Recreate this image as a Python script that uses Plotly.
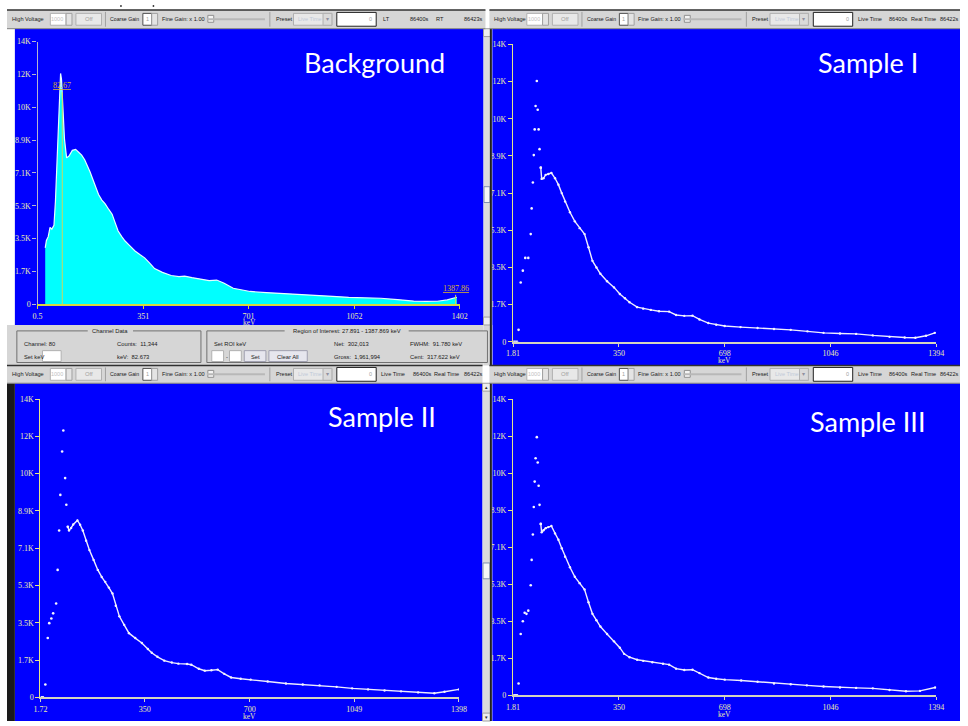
import plotly.graph_objects as go

W, H = 968, 726

# ---------------- data ----------------
y_tickvals = [0, 1750, 3500, 5250, 7000, 8750, 10500, 12250, 14000]
y_ticktext = ["0", "1.7K", "3.5K", "5.3K", "7.1K", "8.9K", "10K", "12K", "14K"]

bg_xticks = [0.5, 351, 701, 1052, 1402]
s1_xticks = [1.81, 350, 698, 1046, 1394]
s2_xticks = [1.72, 350, 700, 1049, 1398]
s3_xticks = [1.81, 350, 698, 1046, 1394]

roi_markers = [82.67, 1387.86]
roi_labels = ["82.67", "1387.86"]

bg_kev = [26, 30, 36, 42, 48, 55, 60, 65, 70, 74, 77, 80, 84, 90, 97, 105, 116, 127, 137,
          147, 157, 166, 175, 183, 193, 203, 214, 225, 237, 248, 258, 268, 280, 291, 308,
          324, 340, 356, 372, 389, 415, 444, 470, 489, 513, 540, 570, 595, 620, 650, 680,
          706, 760, 814, 870, 922, 980, 1033, 1090, 1140, 1195, 1249, 1290, 1327, 1360, 1392]
bg_counts = [3000, 3400, 3600, 4100, 4000, 4200, 5500, 7500, 9800, 11500, 12300, 12000, 10500,
             8800, 7800, 7900, 8200, 8250, 8100, 7950, 7700, 7400, 7050, 6700, 6250, 5850,
             5550, 5350, 5050, 4800, 4350, 3900, 3600, 3370, 3100, 2840, 2650, 2470, 2200,
             1900, 1700, 1530, 1470, 1500, 1420, 1330, 1260, 1290, 1120, 850, 740, 680, 620,
             580, 520, 470, 420, 370, 340, 320, 250, 170, 150, 160, 230, 370]

s1_kev = [5, 10, 15, 20, 27, 34, 42, 52, 60, 63, 67, 70, 73, 76, 80, 83, 86, 89, 93, 96, 102,
          109, 118, 128, 140, 151, 162, 173, 189, 205, 221, 237, 250, 263, 276, 289, 311, 334,
          353, 370, 385, 410, 430, 455, 482, 515, 538, 565, 592, 615, 644, 670, 698, 750, 806,
          860, 915, 970, 1023, 1077, 1130, 1185, 1240, 1290, 1325, 1360, 1389]
s1_counts = [0, 0, 0, 560, 2790, 3350, 3950, 3950, 5070, 6280, 7500, 8790, 10000, 11100, 12280,
             10930, 10000, 9070, 8200, 7670, 7700, 7860, 7900, 7950, 7700, 7400, 7000, 6600,
             6100, 5670, 5350, 5070, 4450, 3810, 3500, 3200, 2850, 2560, 2250, 2050, 1860, 1630,
             1560, 1500, 1440, 1420, 1260, 1220, 1230, 1050, 880, 800, 740, 690, 650, 600, 560,
             490, 420, 390, 370, 300, 230, 200, 190, 280, 420]

s2_kev = [5, 10, 18, 26, 31, 38, 44, 54, 59, 64, 68, 74, 78, 84, 88, 93, 97, 104, 111, 125,
          134, 143, 154, 165, 179, 193, 206, 218, 230, 242, 253, 265, 281, 297, 318, 340, 360,
          373, 392, 415, 440, 462, 491, 505, 530, 550, 572, 593, 615, 638, 670, 703, 760, 821,
          877, 933, 990, 1042, 1095, 1150, 1205, 1262, 1316, 1350, 1398]
s2_counts = [0, 0, 600, 2780, 3480, 3700, 3940, 4400, 5980, 7830, 9500, 11540, 12520, 10290,
             9040, 8000, 7830, 7950, 8110, 8300, 8100, 7830, 7350, 6910, 6450, 5980, 5650, 5420,
             5150, 4870, 4300, 3800, 3400, 3010, 2780, 2550, 2270, 2090, 1900, 1720, 1630, 1580,
             1560, 1530, 1340, 1250, 1270, 1300, 1100, 930, 870, 830, 740, 650, 600, 560, 490,
             420, 370, 320, 280, 230, 190, 260, 370]

s3_kev = [5, 10, 15, 20, 27, 34, 40, 46, 52, 60, 63, 67, 70, 73, 76, 80, 83, 86, 89, 93, 96,
          102, 109, 118, 128, 140, 151, 162, 173, 189, 205, 221, 237, 250, 263, 276, 289, 311,
          334, 353, 367, 385, 410, 430, 460, 495, 515, 538, 565, 592, 615, 644, 670, 698, 752,
          806, 860, 915, 968, 1023, 1077, 1130, 1185, 1240, 1294, 1340, 1390]
s3_counts = [0, 0, 0, 560, 2900, 3500, 3900, 3850, 4000, 5200, 6400, 7600, 8900, 10100, 11200,
             12200, 11000, 9900, 9000, 8100, 7700, 7800, 7900, 7950, 8000, 7650, 7350, 6950,
             6550, 6050, 5600, 5300, 5000, 4400, 3850, 3550, 3250, 2900, 2550, 2250, 1960, 1800,
             1680, 1630, 1560, 1490, 1450, 1260, 1200, 1210, 1050, 840, 780, 740, 700, 640, 560,
             520, 470, 420, 370, 350, 330, 250, 190, 210, 370]

titles = ["Background", "Sample I", "Sample II", "Sample III"]
axis_unit = "keV"

# ---------------- helpers ----------------
def px(x):
    return x / W


def py(y):
    return 1 - y / H


shapes = []
annotations = []


def rect(x0, y0, x1, y1, fill, line=None, lw=0, layer="below"):
    shapes.append(dict(type="rect", xref="paper", yref="paper",
                       x0=px(x0), x1=px(x1), y0=py(y1), y1=py(y0),
                       fillcolor=fill, line=dict(color=line or fill, width=lw),
                       layer=layer))


def hline(x0, x1, y, color, w=1):
    shapes.append(dict(type="line", xref="paper", yref="paper", x0=px(x0), x1=px(x1),
                       y0=py(y), y1=py(y), line=dict(color=color, width=w), layer="above"))


def vline(x, y0, y1, color, w=1):
    shapes.append(dict(type="line", xref="paper", yref="paper", x0=px(x), x1=px(x),
                       y0=py(y0), y1=py(y1), line=dict(color=color, width=w), layer="above"))


def text(x, y, s, size=6, color="#1a1a1a", anchor="left", family="Liberation Sans"):
    annotations.append(dict(x=px(x), y=py(y), xref="paper", yref="paper", text=s,
                            showarrow=False, xanchor=anchor, yanchor="middle",
                            font=dict(size=size, color=color, family=family)))


def toolbar(strip_x0, strip_x1, ox, y0, y1, variant):
    rect(strip_x0, y0, strip_x1, y1, "#D6D6D6")
    hline(strip_x0, strip_x1, y0, "#303030", 1.5)
    hline(strip_x0, strip_x1, y1, "#808080", 1)
    cy = (y0 + y1) / 2
    text(strip_x0 + 3, cy, "High Voltage", 5.6)
    rect(ox + 44, cy - 6, ox + 60, cy + 6, "#FFFFFF", "#B0B0B0", 1)
    text(ox + 59, cy, "1000", 5.5, "#C0C0C0", "right")
    rect(ox + 60, cy - 6, ox + 66, cy + 6, "#E4E4E4", "#A0A0A0", 1)
    rect(ox + 70, cy - 6, ox + 96, cy + 6, "#E8E8E8", "#B0B0B0", 1)
    text(ox + 83, cy, "Off", 5.8, "#A0A0A0", "center")
    vline(ox + 100, y0 + 2, y1 - 2, "#A0A0A0")
    text(ox + 103, cy, "Coarse Gain", 5.2)
    rect(ox + 138, cy - 6, ox + 147, cy + 6, "#FFFFFF", "#505050", 1)
    text(ox + 146, cy, "1", 5.5, "#A0A0A0", "right")
    rect(ox + 147, cy - 6, ox + 153, cy + 6, "#E4E4E4", "#A0A0A0", 1)
    text(ox + 155, cy, "Fine Gain: x 1.00", 5.6)
    hline(ox + 203, ox + 262, cy, "#B8B8B8", 2)
    rect(ox + 204, cy - 4, ox + 210, cy + 3, "#F4F4F4", "#909090", 1)
    vline(ox + 267, y0 + 2, y1 - 2, "#A0A0A0")
    text(ox + 271, cy, "Preset", 5.6)
    rect(ox + 291, cy - 6, ox + 330, cy + 6, "#E8E8E8", "#B0B0B0", 1)
    text(ox + 294, cy, "Live Time", 5.5, "#C0C8D8")
    rect(ox + 321, cy - 6, ox + 330, cy + 6, "#DADADA", "#B0B0B0", 1)
    text(ox + 325.5, cy, "▾", 6, "#9090A0", "center")
    rect(ox + 335, cy - 7, ox + 375, cy + 7, "#FFFFFF", "#202020", 1)
    text(ox + 373, cy, "0", 5.5, "#A0A0A0", "right")
    if variant == "LT":
        text(ox + 380, cy, "LT", 5.6)
        text(ox + 431, cy, "86400s", 5.6, anchor="right")
        text(ox + 434, cy, "RT", 5.6)
        text(ox + 486, cy, "86423s", 5.6, anchor="right")
    else:
        text(ox + 378, cy, "Live Time", 5.6)
        text(ox + 410, cy, "86400s", 5.6)
        text(ox + 432, cy, "Real Time", 5.6)
        text(ox + 462, cy, "86422s", 5.6)


# ---------------- background chrome ----------------
rect(0, 0, W, 6, "#FFFFFF")
for dx in (80, 115, 148):
    rect(dx, 1, dx + 1.5, 3, "#404040")

# blue panels
rect(8, 25, 484, 325, "#0000FF")
rect(493, 25, W, 366, "#0000FF")
rect(8, 384, 483, H, "#0000FF")
rect(493, 384, W, H, "#0000FF")

# dark separators
rect(0, 384, 8, H, "#1A1A1A")
rect(484, 325, 493, 366, "#D6D6D6")
vline(491.5, 25, 366, "#202020", 2)
vline(491.5, 384, H, "#202020", 2)

# scrollbars
rect(484, 25, 491, 325, "#DCDCDC")
rect(484, 25, 491, 33, "#EEEEEE", "#A0A0A0", 1)
text(487.5, 29, "▲", 4.5, "#303030", "center")
rect(484, 317, 491, 325, "#EEEEEE", "#A0A0A0", 1)
text(487.5, 321, "▼", 4.5, "#303030", "center")
rect(484.5, 185, 490.5, 201, "#F6F6F6", "#8090B0", 1)
rect(483, 384, 491, H, "#DCDCDC")
rect(483, 384, 491, 392, "#EEEEEE", "#A0A0A0", 1)
text(487, 388, "▲", 4.5, "#303030", "center")
rect(483, 718, 491, H, "#EEEEEE", "#A0A0A0", 1)
text(487, 722, "▼", 4.5, "#303030", "center")
rect(483.5, 566, 490.5, 582, "#F6F6F6", "#8090B0", 1)

# channel data panel
rect(0, 325, 484, 366, "#D6D6D6")
rect(10, 331, 197, 363, "#D6D6D6", "#707070", 1)
rect(203, 331, 488, 363, "#D6D6D6", "#707070", 1)
rect(82, 327, 128, 334, "#D6D6D6")
text(105, 331, "Channel Data", 5.8, anchor="center")
rect(282, 327, 408, 334, "#D6D6D6")
text(345, 331, "Region of Interest: 27.891 - 1387.869 keV", 5.8, anchor="center")
text(15, 344, "Channel: 80", 5.8)
text(110, 344, "Counts:  11,344", 5.8)
text(15, 357, "Set keV", 5.8)
rect(36, 351, 55, 362, "#FFFFFF", "#B0B0B0", 1)
text(110, 357, "keV:  82.673", 5.8)
text(208, 344, "Set ROI keV", 5.8)
rect(208, 351, 220, 362, "#FFFFFF", "#B0B0B0", 1)
text(223, 357, "-", 5.8, anchor="center")
rect(226, 351, 238, 362, "#FFFFFF", "#B0B0B0", 1)
rect(241, 351, 263, 362, "#E6E6EE", "#A0A0B0", 1)
text(252, 357, "Set", 5.8, anchor="center")
rect(266, 351, 305, 362, "#E6E6EE", "#A0A0B0", 1)
text(285.5, 357, "Clear All", 5.8, anchor="center")
text(330, 344, "Net:  302,013", 5.8)
text(330, 357, "Gross:  1,961,994", 5.8)
text(407, 344, "FWHM:  91.780 keV", 5.8)
text(407, 357, "Cent:  317.622 keV", 5.8)

# toolbars
toolbar(0, 486, 0, 6, 25, "LT")
toolbar(490, W, 484, 6, 25, "RT")
toolbar(0, 483, 0, 366, 384, "RT")
toolbar(490, W, 484, 366, 384, "RT")

# panel titles
title_pos = [(373, 59), (875, 59), (381, 418), (874, 423)]
for t, (tx, ty) in zip(titles, title_pos):
    text(tx, ty, t, 27, "#FFFFFF", "center", "Lato")

# axis unit labels (placed right under tick labels)
tick_font = dict(family="Liberation Serif", size=8, color="#ECECA8")
for ux, uy in [(246, 322.5), (729, 361), (246, 721.5), (729, 719.5)]:
    text(ux, uy, axis_unit, 7.5, "#ECECA8", "center", "Liberation Serif")

# ---------------- traces ----------------
fig = go.Figure()

fig.add_trace(go.Scatter(x=bg_kev, y=bg_counts, mode="lines", fill="tozeroy",
                         fillcolor="#00FFFF", line=dict(color="#E6FFFF", width=1.2),
                         xaxis="x", yaxis="y", hoverinfo="skip"))

for kev, cnt, ax_i in ((s1_kev, s1_counts, 2), (s2_kev, s2_counts, 3), (s3_kev, s3_counts, 4)):
    rise = [(e, c) for e, c in zip(kev, cnt) if e < 96]
    tail = [(e, c) for e, c in zip(kev, cnt) if e >= 93]
    fig.add_trace(go.Scatter(x=[p[0] for p in rise], y=[p[1] for p in rise], mode="markers",
                             marker=dict(color="#F4F4FF", size=2.6),
                             xaxis=f"x{ax_i}", yaxis=f"y{ax_i}", hoverinfo="skip"))
    fig.add_trace(go.Scatter(x=[p[0] for p in tail], y=[p[1] for p in tail],
                             mode="lines+markers",
                             line=dict(color="#EEEEFF", width=1.4),
                             marker=dict(color="#F4F4FF", size=2.4),
                             xaxis=f"x{ax_i}", yaxis=f"y{ax_i}", hoverinfo="skip"))

# ROI markers on background panel
for mk, lab, ytop in zip(roi_markers, roi_labels, [11300, 500]):
    fig.add_shape(type="line", xref="x", yref="y", x0=mk, x1=mk, y0=0, y1=ytop,
                  line=dict(color="#C8D860", width=1))
    fig.add_annotation(x=mk, y=ytop, xref="x", yref="y", text=f"<u>{lab}</u>",
                       showarrow=False, yanchor="bottom", xanchor="center",
                       font=dict(size=8, color="#D8B030", family="Liberation Serif"))


# ---------------- axes ----------------
def xaxis(dom, anchor, ticks, color):
    return dict(domain=[px(dom[0]), px(dom[1])], anchor=anchor,
                range=[ticks[0] - 0.01, ticks[-1] + 0.01], tickvals=ticks,
                ticktext=[f"{t:g}" for t in ticks], showgrid=False, zeroline=False,
                showline=True, linecolor=color, linewidth=1.6, ticks="outside",
                ticklen=3, tickcolor=color, tickfont=tick_font, fixedrange=True,
                ticklabelstandoff=0)


def yaxis(dom, anchor, color):
    return dict(domain=[py(dom[0]), py(dom[1])], anchor=anchor, range=[0, 14000],
                tickvals=y_tickvals, ticktext=y_ticktext, showgrid=False, zeroline=False,
                showline=True, linecolor=color, linewidth=1.4, ticks="outside",
                ticklen=4, tickcolor=color, tickfont=tick_font, fixedrange=True)


fig.update_layout(
    width=W, height=H, autosize=False,
    margin=dict(l=0, r=0, t=0, b=0),
    paper_bgcolor="#FFFFFF", plot_bgcolor="rgba(0,0,0,0)",
    showlegend=False,
    xaxis=xaxis((31, 460), "y", bg_xticks, "#D8D840"),
    yaxis=yaxis((304, 38), "x", "#B4B4D0"),
    xaxis2=xaxis((514, 944), "y2", s1_xticks, "#D4D4C0"),
    yaxis2=yaxis((342, 41), "x2", "#E4E488"),
    xaxis3=xaxis((34, 459), "y3", s2_xticks, "#D4D4C0"),
    yaxis3=yaxis((702, 400), "x3", "#E4E488"),
    xaxis4=xaxis((514, 944), "y4", s3_xticks, "#D4D4C0"),
    yaxis4=yaxis((700, 400), "x4", "#E4E488"),
    shapes=shapes,
    annotations=annotations,
)

fig.write_html("out.html",
               config={"displayModeBar": False},
               post_script="document.body.style.margin='0';document.body.style.padding='0';"
                           "document.body.style.overflow='hidden';")
